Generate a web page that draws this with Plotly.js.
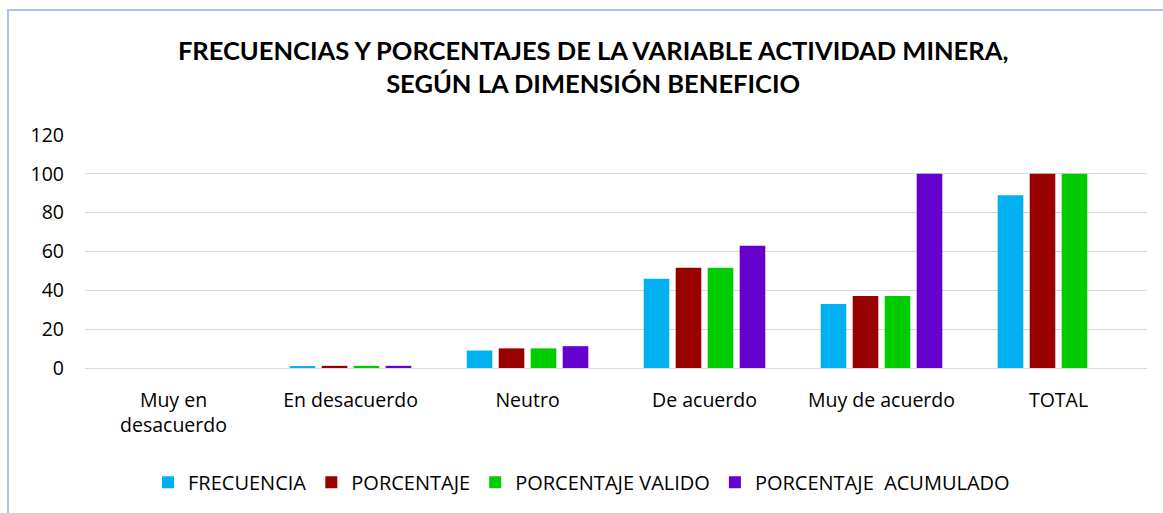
<!DOCTYPE html>
<html>
<head>
<meta charset="utf-8">
<script src="https://cdn.plot.ly/plotly-3.0.1.min.js"></script>
<style>
html,body{margin:0;padding:0;background:#fff;overflow:hidden;}
#wrap{position:relative;width:1163px;height:513px;overflow:hidden;}
#chart{width:1163px;height:513px;}
#frame{position:absolute;left:7px;top:9px;width:2000px;height:2000px;border-left:2px solid #a9c2e6;border-top:2px solid #a9c2e6;pointer-events:none;}
</style>
</head>
<body>
<div id="wrap"><div id="chart"></div><div id="frame"></div></div>
<script>
const categories = ["Muy en<br>desacuerdo", "En desacuerdo", "Neutro", "De acuerdo", "Muy de acuerdo", "TOTAL"];
const frecuencia = [0, 1, 9, 46, 33, 89];
const porcentaje = [0, 1.12, 10.11, 51.69, 37.08, 100];
const porcentajeValido = [0, 1.12, 10.11, 51.69, 37.08, 100];
const porcentajeAcumulado = [0, 1.12, 11.24, 62.92, 100, null];
const seriesNames = ["FRECUENCIA", "PORCENTAJE", "PORCENTAJE VALIDO", "PORCENTAJE  ACUMULADO"];
const yTicks = [0, 20, 40, 60, 80, 100, 120];

const colors = ["#00B0F0", "#990000", "#00CC00", "#6600CC"];
const data = [frecuencia, porcentaje, porcentajeValido, porcentajeAcumulado].map((vals, i) => ({
  type: "bar",
  x: categories,
  y: vals,
  name: seriesNames[i],
  marker: {color: colors[i], line: {width: 0}},
  hoverinfo: "x+y+name"
}));

const font = "'Open Sans', 'DejaVu Sans', sans-serif";
const titleFont = "Lato, 'Open Sans', sans-serif";
const layout = {
  width: 1163, height: 513,
  paper_bgcolor: "rgba(0,0,0,0)", plot_bgcolor: "rgba(0,0,0,0)",
  margin: {l: 85, r: 16, t: 135, b: 145},
  font: {family: font, size: 19, color: "#000"},
  title: {
    text: "<b>FRECUENCIAS Y PORCENTAJES DE LA VARIABLE ACTIVIDAD MINERA,<br>SEGÚN LA DIMENSIÓN BENEFICIO</b>",
    font: {family: titleFont, size: 25.5, color: "#000"},
    xref: "container", x: 0.51, xanchor: "center",
    yref: "container", y: 0.883, yanchor: "top"
  },
  barmode: "group",
  bargap: 0.277,
  bargroupgap: 0.2,
  xaxis: {
    type: "category",
    showgrid: false, showline: false, zeroline: false,
    ticks: "", ticklabelstandoff: 18,
    tickfont: {family: font, size: 19.5, color: "#000"}
  },
  yaxis: {
    range: [0, 120], tickvals: yTicks, ticktext: yTicks.map(String),
    showgrid: true, gridcolor: "#d9d9d9", gridwidth: 1,
    zeroline: true, zerolinecolor: "#d9d9d9", zerolinewidth: 1,
    showline: false, ticks: "", ticklabelstandoff: 20,
    tickfont: {family: font, size: 19.5, color: "#000"}
  },
  legend: {
    orientation: "h", x: 0.5, xanchor: "center", xref: "container",
    y: 0.06, yref: "container", yanchor: "middle",
    font: {family: font, size: 20, color: "#000"},
    itemclick: false, itemdoubleclick: false
  }
};

Plotly.newPlot("chart", data, layout, {displayModeBar: false, staticPlot: true});
</script>
</body>
</html>
